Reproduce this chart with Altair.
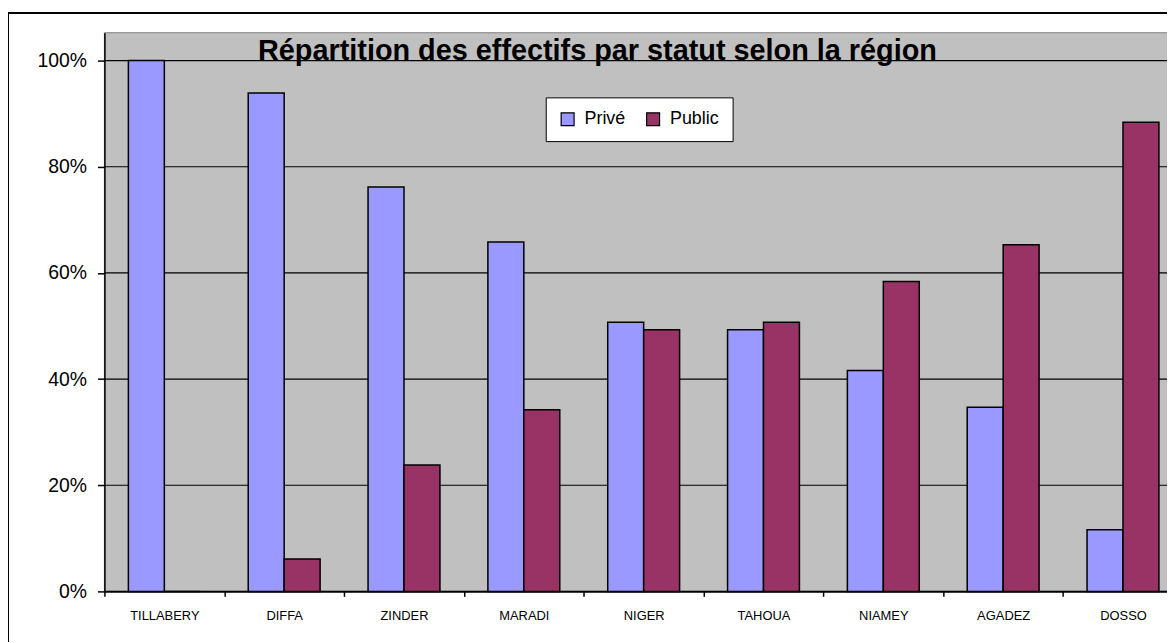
import altair as alt
import pandas as pd

regions = ["TILLABERY", "DIFFA", "ZINDER", "MARADI", "NIGER", "TAHOUA", "NIAMEY", "AGADEZ", "DOSSO"]
prive = [1.000, 0.939, 0.762, 0.658, 0.507, 0.493, 0.416, 0.347, 0.116]
public = [0.000, 0.061, 0.238, 0.342, 0.493, 0.507, 0.584, 0.653, 0.884]
statuts = ["Privé", "Public"]
colors = ["#9999FF", "#993366"]
y_ticks = [0, 0.2, 0.4, 0.6, 0.8, 1.0]
title_text = "Répartition des effectifs par statut selon la région"

rows = []
for r, a, b in zip(regions, prive, public):
    rows.append({"region": r, "statut": statuts[0], "part": a})
    rows.append({"region": r, "statut": statuts[1], "part": b})
df = pd.DataFrame(rows)
grid_df = pd.DataFrame({"part": y_ticks})

FONT = "Liberation Sans"
W, H = 1069, 562

y_scale = alt.Scale(domain=[0, 1.0524], nice=False)
y_axis = alt.Axis(
    values=y_ticks, format=".0%", labelFont=FONT, labelFontSize=19.5,
    labelColor="black", tickSize=7, tickColor="black", tickWidth=1.5,
    labelPadding=11, domainColor="black", domainWidth=1.5,
    grid=False, zindex=1,
)

border = alt.Chart(pd.DataFrame({"k": [0]})).mark_rect(
    filled=False, stroke="black", strokeWidth=2
).encode(
    x=alt.value(-97), x2=alt.value(3000), y=alt.value(-20), y2=alt.value(3000)
)

plot_bg = alt.Chart(pd.DataFrame({"k": [0]})).mark_rect(
    fill="#C0C0C0", stroke="#808080", strokeWidth=1
).encode(
    x=alt.value(0), x2=alt.value(1200), y=alt.value(0), y2=alt.value(H)
)

grid = alt.Chart(grid_df).mark_rule(color="black", strokeWidth=1.2).encode(
    y=alt.Y("part:Q", title=None, scale=y_scale, axis=y_axis),
    x=alt.value(0), x2=alt.value(1200),
)

bars = alt.Chart(df).mark_bar(stroke="black", strokeWidth=1.5).encode(
    x=alt.X(
        "region:N",
        sort=regions,
        title=None,
        scale=alt.Scale(range=[0, 1085], paddingInner=0, paddingOuter=0),
        axis=alt.Axis(
            tickBand="extent", labelAngle=0, labelFont=FONT, labelFontSize=13,
            labelColor="black", tickSize=5, tickColor="black", tickWidth=1.5,
            labelPadding=13, domainColor="black", domainWidth=1.5, grid=False,
            zindex=1,
        ),
    ),
    xOffset=alt.XOffset(
        "statut:N", sort=statuts,
        scale=alt.Scale(paddingInner=0, paddingOuter=0.667),
    ),
    y=alt.Y("part:Q", title=None, scale=y_scale, axis=y_axis),
    color=alt.Color(
        "statut:N",
        scale=alt.Scale(domain=statuts, range=colors),
        legend=alt.Legend(
            title=None, orient="none", legendX=444, legendY=65,
            direction="horizontal", fillColor="white", strokeColor="black",
            padding=13, symbolType="square", symbolSize=169,
            symbolStrokeColor="black", symbolStrokeWidth=1.2, symbolOpacity=1,
            labelFont=FONT, labelFontSize=18, labelColor="black",
            labelOffset=8, columnPadding=18,
        ),
    ),
)

title = alt.Chart(pd.DataFrame({"t": [title_text]})).mark_text(
    font=FONT, fontSize=29, fontWeight="bold", color="black",
    align="center", baseline="alphabetic",
).encode(
    text="t:N", x=alt.value(496), y=alt.value(27)
)

chart = alt.layer(border, plot_bg, grid, bars, title).properties(
    width=W,
    height=H,
    autosize=alt.AutoSizeParams(type="none"),
    padding={"left": 97, "top": 23, "right": 0, "bottom": 49},
).configure_view(
    stroke=None
).configure(background="white")

chart.save("out.html", embed_options={"renderer": "svg", "actions": False})
